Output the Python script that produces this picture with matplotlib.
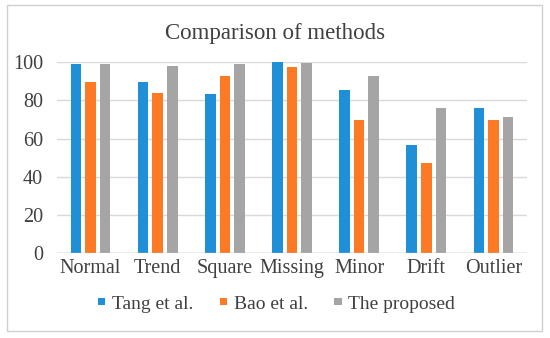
import matplotlib
matplotlib.use("Agg")
import matplotlib.pyplot as plt
import numpy as np
from matplotlib.patches import Rectangle

categories = ["Normal", "Trend", "Square", "Missing", "Minor", "Drift", "Outlier"]
series_names = ["Tang et al.", "Bao et al.", "The proposed"]
tang = [98.9, 89.5, 83.4, 100.0, 85.4, 56.5, 76.0]
bao = [89.5, 84.0, 92.8, 97.3, 69.8, 47.3, 69.8]
proposed = [98.9, 98.0, 98.9, 99.8, 92.6, 76.0, 71.5]
yticks = [0, 20, 40, 60, 80, 100]
colors = ["#1F8FD8", "#FD7A24", "#A5A5A5"]

plt.rcParams['font.family'] = ['Liberation Serif', 'DejaVu Serif']

fig = plt.figure(figsize=(5.5, 3.38), dpi=100)
ax = fig.add_axes([0.1036, 0.2506, 0.8546, 0.5651])

x = np.arange(len(categories))
w = 0.157
pitch = 0.217
for i, (vals, c, n) in enumerate(zip([tang, bao, proposed], colors, series_names)):
    ax.bar(x + (i - 1) * pitch, vals, width=w, color=c, label=n, zorder=3)

ax.set_xlim(-0.5, len(categories) - 0.5)
ax.set_ylim(0, 100)
ax.set_yticks(yticks)
ax.set_yticklabels([str(t) for t in yticks], fontsize=14.5, color="#404040")
ax.set_xticks(x)
ax.set_xticklabels(categories, fontsize=14.5, color="#404040")
ax.tick_params(axis='both', length=0)
ax.tick_params(axis='y', pad=10)
ax.tick_params(axis='x', pad=4)
for s in ax.spines.values():
    s.set_visible(False)
ax.grid(axis='y', color="#D9D9D9", linewidth=1, zorder=0)
ax.axhline(0, color="#BFBFBF", linewidth=1, zorder=4)
ax.set_axisbelow(True)

fig.text(0.5, 0.9, "Comparison of methods", ha='center', va='center',
         fontsize=16.5, color="#404040")

leg = fig.legend(loc='center', bbox_to_anchor=(0.503, 0.1), ncol=3, frameon=False,
                 fontsize=14, handlelength=0.38, handleheight=0.18, handletextpad=0.35,
                 columnspacing=1.35, labelcolor="#404040")

fig.patches.append(Rectangle((0.013, 0.02), 0.973, 0.965, transform=fig.transFigure,
                             fill=False, edgecolor="#D0D0D0", linewidth=1))

fig.savefig("out.png", dpi=100)
